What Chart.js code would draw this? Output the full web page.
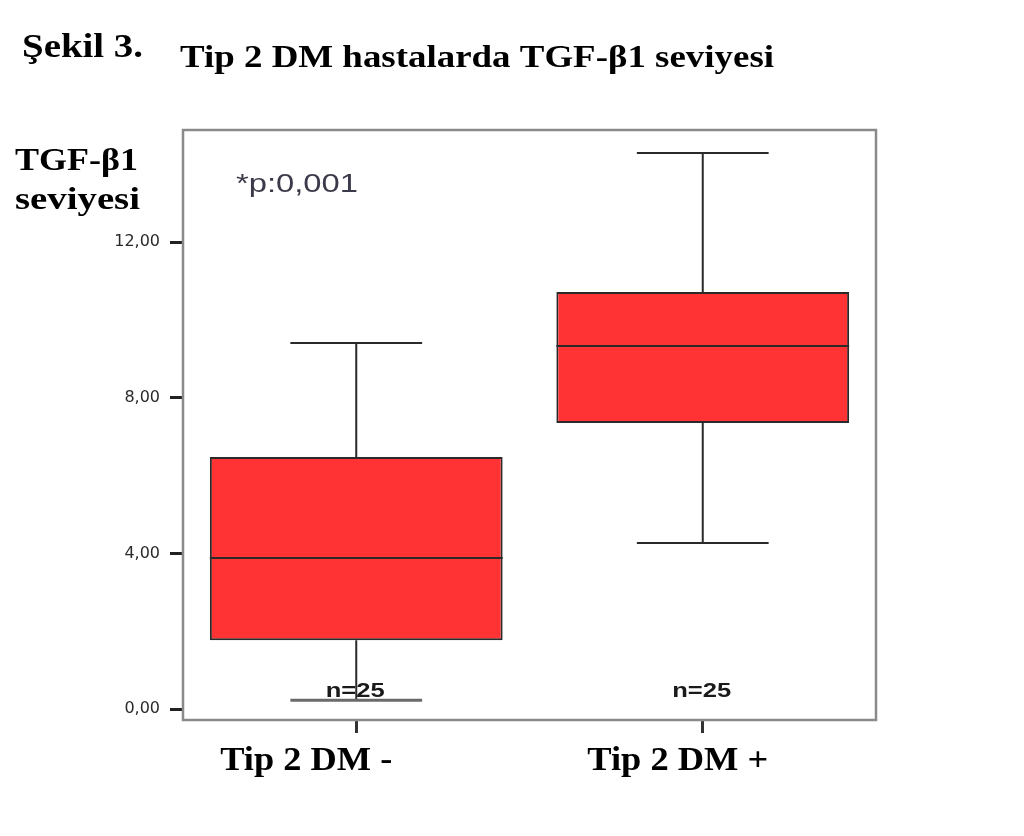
<!DOCTYPE html>
<html>
<head>
<meta charset="utf-8">
<script src="https://cdn.jsdelivr.net/npm/chart.js@4"></script>
<style>
  html, body { margin: 0; padding: 0; background: #fff; }
  #wrap { width: 1024px; height: 836px; }
</style>
</head>
<body>
<div id="wrap"><canvas id="boxChart" width="1024" height="836"></canvas></div>
<script>
const groups = ['Tip 2 DM -', 'Tip 2 DM +'];
const whiskerLow = [0.23, 4.27];
const q1 = [1.77, 7.35];
const median = [3.88, 9.33];
const q3 = [6.48, 10.72];
const whiskerHigh = [9.41, 14.29];
const counts = ['n=25', 'n=25'];
const yTicks = [0, 4, 8, 12];

const boxColor = '#ff3333';
const lineColor = '#2a2a2a';
const serifBold = '"Liberation Serif", "Times New Roman", serif';

// the source image is a bit wider than it is tall, so text gets stretched to its width
function stretchText(ctx, text, x, y, font, width, align) {
    ctx.save();
    ctx.font = font;
    const w = ctx.measureText(text).width;
    const s = width / w;
    ctx.translate(x, y);
    ctx.scale(s, 1);
    ctx.textAlign = 'left';
    ctx.textBaseline = 'alphabetic';
    ctx.fillText(text, align === 'center' ? -w / 2 : 0, 0);
    ctx.restore();
}

// whiskers, medians, labels and the frame
const boxPlotExtras = {
    id: 'boxPlotExtras',
    afterDatasetsDraw(chart) {
        const ctx = chart.ctx;
        const y = chart.scales.y;
        const x = chart.scales.x;
        const area = chart.chartArea;
        const bars = chart.getDatasetMeta(0).data;
        ctx.save();
        bars.forEach((bar, i) => {
            const cx = bar.x;
            const half = bar.width / 2;
            const capHalf = bar.width * 0.225;
            ctx.strokeStyle = lineColor;
            ctx.lineWidth = 2;
            // median
            ctx.beginPath();
            ctx.moveTo(cx - half, y.getPixelForValue(median[i]));
            ctx.lineTo(cx + half, y.getPixelForValue(median[i]));
            ctx.stroke();
            // whiskers
            ctx.beginPath();
            ctx.moveTo(cx, y.getPixelForValue(q3[i]));
            ctx.lineTo(cx, y.getPixelForValue(whiskerHigh[i]));
            ctx.moveTo(cx, y.getPixelForValue(q1[i]));
            ctx.lineTo(cx, y.getPixelForValue(whiskerLow[i]));
            ctx.moveTo(cx - capHalf, y.getPixelForValue(whiskerHigh[i]));
            ctx.lineTo(cx + capHalf, y.getPixelForValue(whiskerHigh[i]));
            ctx.stroke();
            ctx.strokeStyle = i === 0 ? '#6a6a6a' : lineColor;
            ctx.lineWidth = i === 0 ? 3 : 2;
            ctx.beginPath();
            ctx.moveTo(cx - capHalf, y.getPixelForValue(whiskerLow[i]));
            ctx.lineTo(cx + capHalf, y.getPixelForValue(whiskerLow[i]));
            ctx.stroke();
            // n labels
            ctx.fillStyle = '#1a1a1a';
            stretchText(ctx, counts[i], cx - 1, y.getPixelForValue(0.3),
                'bold 20px "Liberation Sans", Arial, sans-serif', 59, 'center');
        });
        // frame
        ctx.strokeStyle = '#8a8a8a';
        ctx.lineWidth = 2.5;
        ctx.strokeRect(area.left, area.top, area.right - area.left, area.bottom - area.top);
        // p value
        ctx.fillStyle = '#3a3a4a';
        stretchText(ctx, '*p:0,001', 236, 192, '26px "Liberation Sans", Arial, sans-serif', 122, 'left');
        // category labels under the axis ticks
        ctx.fillStyle = '#000';
        const labelShift = [-50, -25];
        const labelWidth = [172, 181];
        groups.forEach((g, i) => {
            stretchText(ctx, g, x.getPixelForValue(i) + labelShift[i], 770,
                'bold 34px ' + serifBold, labelWidth[i], 'center');
        });
        ctx.restore();
    },
    afterDraw(chart) {
        const ctx = chart.ctx;
        ctx.save();
        ctx.fillStyle = '#000';
        stretchText(ctx, 'Şekil 3.', 22, 57, 'bold 34px ' + serifBold, 121, 'left');
        stretchText(ctx, 'Tip 2 DM hastalarda TGF-β1 seviyesi', 180, 67, 'bold 32px ' + serifBold, 594, 'left');
        stretchText(ctx, 'TGF-β1', 15, 170, 'bold 32px ' + serifBold, 123, 'left');
        stretchText(ctx, 'seviyesi', 15, 209, 'bold 32px ' + serifBold, 125, 'left');
        ctx.restore();
    }
};

const ctx = document.getElementById('boxChart').getContext('2d');
const boxChart = new Chart(ctx, {
    type: 'bar',
    data: {
        labels: groups,
        datasets: [{
            data: groups.map((g, i) => [q1[i], q3[i]]),
            backgroundColor: boxColor,
            borderColor: lineColor,
            borderWidth: 2,
            borderSkipped: false,
            barPercentage: 0.845,
            categoryPercentage: 1
        }]
    },
    options: {
        responsive: false,
        animation: false,
        layout: { padding: { top: 130, right: 148, left: 0, bottom: 0 } },
        plugins: {
            legend: { display: false },
            tooltip: { enabled: false }
        },
        scales: {
            x: {
                grid: {
                    offset: false,
                    drawOnChartArea: false,
                    drawTicks: true,
                    tickLength: 13,
                    tickWidth: 3,
                    tickColor: '#333'
                },
                border: { display: false },
                ticks: { display: false },
                afterFit(scale) { scale.height = 116; }
            },
            y: {
                min: -0.28,
                max: 14.88,
                afterBuildTicks(scale) {
                    scale.ticks = yTicks.map(v => ({ value: v }));
                },
                grid: {
                    drawOnChartArea: false,
                    drawTicks: true,
                    tickLength: 13,
                    tickWidth: 3,
                    tickColor: '#222'
                },
                border: { display: false },
                ticks: {
                    color: '#2a2a2a',
                    padding: 10,
                    font: { family: '"DejaVu Sans", Arial, sans-serif', size: 16 },
                    callback: v => v.toFixed(2).replace('.', ',')
                },
                afterFit(scale) { scale.width = 183; }
            }
        }
    },
    plugins: [boxPlotExtras]
});
</script>
</body>
</html>
